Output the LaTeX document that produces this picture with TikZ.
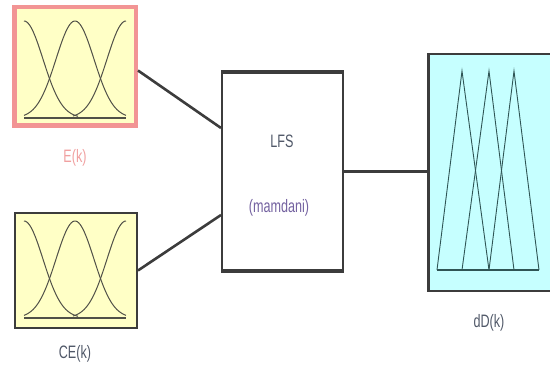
\documentclass[tikz,border=0pt]{standalone}
\usepackage{fontspec}
\setmainfont{Liberation Sans}
\definecolor{mfyellow}{HTML}{FFFFC6}
\definecolor{mfcyan}{HTML}{C6FFFF}
\definecolor{pinkb}{HTML}{F29494}
\definecolor{darkb}{HTML}{3C3C3C}
\definecolor{curvec}{HTML}{505048}
\definecolor{tric}{HTML}{2F5555}
\definecolor{labpink}{HTML}{F0A0A0}
\definecolor{labgray}{HTML}{505868}
\definecolor{labpurple}{HTML}{7462A0}
\begin{document}
\begin{tikzpicture}[x=1pt,y=-1pt,
  mfbox/.style={draw=darkb,line width=2pt,fill=mfyellow,minimum width=122pt,minimum height=115pt,inner sep=0pt},
  conn/.style={draw=darkb,line width=2.6pt},
  lab/.style={font=\fontsize{18}{18}\selectfont,xscale=0.7,inner sep=0pt},
  mfcurve/.style={draw=curvec,line width=1pt},
  tri/.style={draw=tric,line width=0.9pt}]
\useasboundingbox (0,0) rectangle (550,371);
% input E
\node[mfbox,draw=pinkb,line width=4.5pt,minimum width=121.5pt,minimum height=118.5pt] (E) at (75,66.5) {};
% input CE
\node[mfbox,minimum width=122pt,minimum height=115pt] (CE) at (76,270.5) {};
% LFS block
\node[draw=darkb,line width=2pt,fill=white,minimum width=121pt,minimum height=197pt,inner sep=0pt] (LFS) at (282.5,171.5) {};
\draw[darkb,line width=3.2pt] (LFS.north west) -- (LFS.north east);
\draw[darkb,line width=3.2pt] (LFS.south west) -- (LFS.south east);
% output block
\node[draw=darkb,line width=2.5pt,fill=mfcyan,minimum width=130pt,minimum height=237pt,inner sep=0pt,anchor=west] (dD) at (427,172.5) {};
% membership functions of E and CE
\foreach \yb in {118,318}{
  \draw[mfcurve] plot[domain=24:78,samples=40] (\x,{\yb-97*exp(-((\x-24)^2)/722)});
  \draw[mfcurve] plot[domain=24:126,samples=70] (\x,{\yb-97*exp(-((\x-75)^2)/722)});
  \draw[mfcurve] plot[domain=73:126,samples=40] (\x,{\yb-97*exp(-((\x-126)^2)/722)});
  \draw[curvec,line width=1.6pt] (24,\yb) -- (126,\yb);
}
% triangles of dD
\draw[tri] (437,270) -- (462,71) -- (489,270);
\draw[tri] (462,270) -- (489,71) -- (514,270);
\draw[tri] (489,270) -- (514,71) -- (539,270);
\draw[tric,line width=1.4pt] (437,270) -- (539,270);
% connectors
\draw[conn] ([yshift=-4pt]E.east) -- ([yshift=43.5pt]LFS.west);
\draw[conn] (CE.east) -- ([yshift=-43.5pt]LFS.west);
\draw[conn] (LFS.east) -- (LFS.east -| dD.west);
% labels
\node[lab,text=labpink] (lE) at (75,157.5) {E(k)};
\node[lab,text=labgray] (lCE) at (75,354) {CE(k)};
\node[lab,text=labgray] (lLFS) at (282,141) {LFS};
\node[lab,text=labpurple] (lm) at (279,208) {(mamdani)};
\node[lab,text=labgray] (ldD) at (489,323) {dD(k)};
\end{tikzpicture}
\end{document}
